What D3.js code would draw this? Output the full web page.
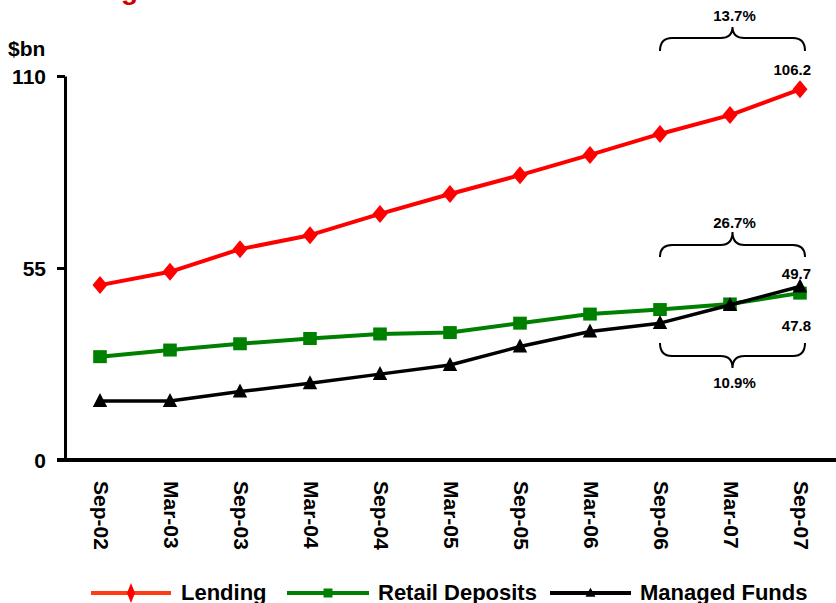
<!DOCTYPE html>
<html>
<head>
<meta charset="utf-8">
<script src="https://cdn.jsdelivr.net/npm/d3@7"></script>
<style>
  html, body { margin: 0; padding: 0; background: #fff; }
  svg { display: block; }
  text { font-family: "Liberation Sans", Arial, Helvetica, sans-serif; font-weight: bold; fill: #000; }
</style>
</head>
<body>
<svg id="chart" width="836" height="603"></svg>
<script>
// Half-year periods on the category axis
const periods = ["Sep-02", "Mar-03", "Sep-03", "Mar-04", "Sep-04", "Mar-05",
                 "Sep-05", "Mar-06", "Sep-06", "Mar-07", "Sep-07"];

// Balances, $bn
const lending        = [50.1, 53.9, 60.4, 64.4, 70.5, 76.2, 81.6, 87.4, 93.4, 98.8, 106.2];
const retailDeposits = [29.6, 31.5, 33.3, 34.8, 36.1, 36.5, 39.2, 41.8, 43.1, 44.7, 47.8];
const managedFunds   = [16.9, 16.9, 19.6, 22.0, 24.6, 27.2, 32.5, 36.8, 39.2, 44.4, 49.7];

const yTicks = [0, 55, 110];

// Year-on-year growth, Sep-06 to Sep-07
const growthLending = "13.7%";
const growthManaged = "26.7%";
const growthRetail  = "10.9%";

const series = [
  { name: "Lending",         values: lending,        color: "#ff0000", legendColor: "#ff3c14", marker: "diamond",  width: 4 },
  { name: "Retail Deposits", values: retailDeposits, color: "#008000", legendColor: "#008000", marker: "square",   width: 4 },
  { name: "Managed Funds",   values: managedFunds,   color: "#000000", legendColor: "#000000", marker: "triangle", width: 3.5 }
];

const svg = d3.select("#chart");

const x = d3.scalePoint().domain(periods).range([100, 800]);
const y = d3.scaleLinear().domain([0, 110]).range([460, 76]);

// Heading (only its lower edge sits inside the frame)
svg.append("text").attr("x", 121).attr("y", -1)
  .style("font-size", "28px").style("fill", "#d00000").text("g");

// Unit label
svg.append("text").attr("x", 8).attr("y", 56).style("font-size", "21px").text("$bn");

// Y axis
const yAxis = d3.axisLeft(y).tickValues(yTicks).tickSize(8).tickPadding(11).tickSizeOuter(0);
const gy = svg.append("g").attr("transform", "translate(65,0)").call(yAxis);
gy.select(".domain").attr("stroke", "#000").attr("stroke-width", 3);
gy.selectAll(".tick line").attr("stroke", "#000").attr("stroke-width", 3);
gy.selectAll(".tick text").style("font-size", "21px").style("font-family", null)
  .attr("font-family", null).attr("font-size", null).attr("dy", "0.36em");

// X axis baseline
svg.append("line").attr("x1", 57).attr("x2", 836)
  .attr("y1", y(0)).attr("y2", y(0)).attr("stroke", "#000").attr("stroke-width", 4);

// X tick labels, rotated to read downward
svg.append("g").selectAll("text").data(periods).join("text")
  .attr("transform", d => `translate(${x(d)},${y(0)}) rotate(90)`)
  .attr("x", 21).attr("y", 6.5)
  .style("font-size", "21px")
  .text(d => d);

// Marker shapes
function markerPath(type, w, h) {
  if (type === "diamond") return `M0,${-h}L${w},0L0,${h}L${-w},0Z`;
  if (type === "square") return `M${-w},${-h}H${w}V${h}H${-w}Z`;
  return `M0,${-h * 1.15}L${w},${h * 0.85}L${-w},${h * 0.85}Z`;
}
const markerSize = {
  diamond:  [7.5, 9],
  square:   [6.8, 6.5],
  triangle: [7.2, 7]
};

const line = d3.line().x((d, i) => x(periods[i])).y(d => y(d));

series.forEach(s => {
  const g = svg.append("g");
  g.append("path").datum(s.values)
    .attr("d", line).attr("fill", "none")
    .attr("stroke", s.color).attr("stroke-width", s.width)
    .attr("stroke-linejoin", "round");
  const [w, h] = markerSize[s.marker];
  g.selectAll("path.m").data(s.values).join("path").attr("class", "m")
    .attr("transform", (d, i) => `translate(${x(periods[i])},${y(d)})`)
    .attr("d", markerPath(s.marker, w, h))
    .attr("fill", s.color);
});

// Closing value labels
const last = periods.length - 1;
const lastX = x(periods[last]) + 11;
svg.append("text").attr("x", lastX).attr("y", y(lending[last]) - 14)
  .attr("text-anchor", "end").style("font-size", "15px").text(lending[last].toFixed(1));
svg.append("text").attr("x", lastX).attr("y", y(managedFunds[last]) - 8)
  .attr("text-anchor", "end").style("font-size", "15px").text(managedFunds[last].toFixed(1));
svg.append("text").attr("x", lastX).attr("y", y(retailDeposits[last]) + 38)
  .attr("text-anchor", "end").style("font-size", "15px").text(retailDeposits[last].toFixed(1));

// Curly braces spanning the last year
function brace(x1, x2, yEnd, yFlat, yTip) {
  const xm = (x1 + x2) / 2, r = 12;
  return `M${x1},${yEnd}Q${x1},${yFlat} ${x1 + r},${yFlat}` +
         `L${xm - r},${yFlat}Q${xm},${yFlat} ${xm},${yTip}` +
         `Q${xm},${yFlat} ${xm + r},${yFlat}` +
         `L${x2 - r},${yFlat}Q${x2},${yFlat} ${x2},${yEnd}`;
}
const bx1 = x(periods[last - 2]), bx2 = x(periods[last]) + 5;
const bxm = (bx1 + bx2) / 2;
const braces = [
  { ends: 51,  flat: 38,  tip: 27,  label: growthLending, ty: 21 },
  { ends: 257, flat: 245, tip: 232, label: growthManaged, ty: 228 },
  { ends: 343, flat: 356, tip: 368, label: growthRetail,  ty: 388 }
];
braces.forEach(b => {
  svg.append("path").attr("d", brace(bx1, bx2, b.ends, b.flat, b.tip))
    .attr("fill", "none").attr("stroke", "#000").attr("stroke-width", 2);
  svg.append("text").attr("x", bxm + 2).attr("y", b.ty)
    .attr("text-anchor", "middle").style("font-size", "15px").text(b.label);
});

// Legend
const legendItems = [
  { s: series[0], x1: 91,  x2: 171, tx: 181 },
  { s: series[1], x1: 287, x2: 369, tx: 378 },
  { s: series[2], x1: 550, x2: 631, tx: 640 }
];
const legendMarker = { diamond: [4, 10], square: [4.5, 4.5], triangle: [5, 4.5] };
const ly = 593;
legendItems.forEach(it => {
  const g = svg.append("g");
  g.append("line").attr("x1", it.x1).attr("x2", it.x2).attr("y1", ly).attr("y2", ly)
    .attr("stroke", it.s.legendColor).attr("stroke-width", 4);
  const [w, h] = legendMarker[it.s.marker];
  g.append("path").attr("transform", `translate(${(it.x1 + it.x2) / 2},${ly})`)
    .attr("d", markerPath(it.s.marker, w, h)).attr("fill", it.s.color);
  g.append("text").attr("x", it.tx).attr("y", 600).style("font-size", "22px").text(it.s.name);
});
</script>
</body>
</html>
